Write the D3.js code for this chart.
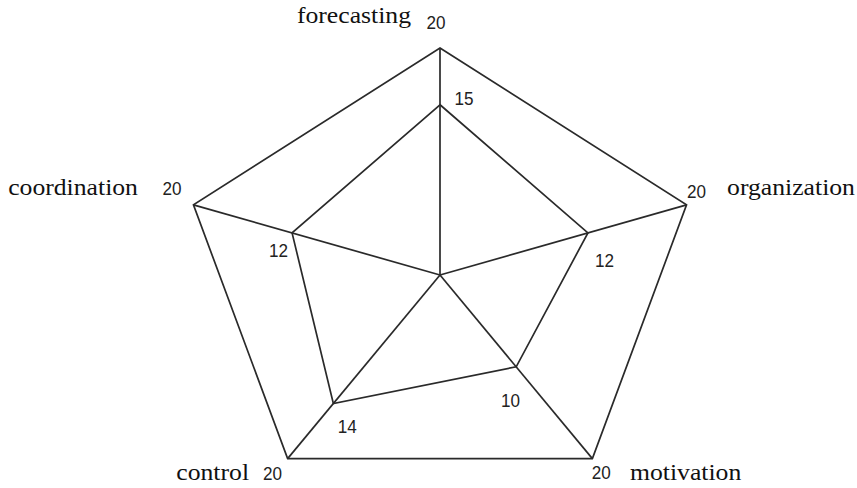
<!DOCTYPE html>
<html>
<head>
<meta charset="utf-8">
<script src="https://cdn.jsdelivr.net/npm/d3@7"></script>
<style>
  body { margin: 0; background: #fff; }
  .cat { font-family: "Liberation Serif", "Times New Roman", serif; font-size: 22.5px; fill: #111; }
  .num { font-family: "Liberation Sans", Arial, sans-serif; font-size: 19px; fill: #222; }
</style>
</head>
<body>
<div id="main"></div>
<script>
// chart data
var categories = ["forecasting", "organization", "motivation", "control", "coordination"];
var values = [15, 12, 10, 14, 12];
var maxValues = [20, 20, 20, 20, 20];

var ctx = {
    w: 857,
    h: 488,
    cx: 440,
    cy: 275,
    r: 227,
    sx: 1.142,    // the original picture is stretched horizontally
    numSx: 0.9,   // the digits are narrower than plain Arial
    stroke: "#2a2a2a"
};

// label offsets per axis (dx, dy) from the vertex they belong to
var catOffsets = [[-29, -25, "end"], [40.5, -10, "start"], [37.6, 21, "start"], [-38.6, 21, "end"], [-55.5, -10, "end"]];
var maxOffsets = [[-4, -19], [10, -7], [9, 20], [-15, 21], [-21.5, -10]];
var valOffsets = [[24, 0], [16.5, 34], [-5.7, 40], [14, 29.5], [-13.5, 24]];

var createViz = function() {
    var svg = d3.select("#main").append("svg")
        .attr("width", ctx.w)
        .attr("height", ctx.h);

    var rScale = d3.scaleLinear().domain([0, 20]).range([0, ctx.r]);
    var angle = d3.scaleLinear().domain([0, categories.length]).range([0, 2 * Math.PI]);

    var pt = function(i, v) {
        var a = angle(i);
        return [ctx.cx + ctx.sx * rScale(v) * Math.sin(a), ctx.cy - rScale(v) * Math.cos(a)];
    };

    var outer = maxValues.map((v, i) => pt(i, v));
    var inner = values.map((v, i) => pt(i, v));
    var line = d3.line().curve(d3.curveLinearClosed);

    var g = svg.append("g").attr("id", "rootG");

    // spokes
    g.selectAll(".spoke").data(outer).enter().append("line")
        .attr("x1", ctx.cx).attr("y1", ctx.cy)
        .attr("x2", d => d[0]).attr("y2", d => d[1])
        .attr("stroke", ctx.stroke).attr("stroke-width", 1.7);

    // outer pentagon
    g.append("path").attr("d", line(outer))
        .attr("fill", "none").attr("stroke", ctx.stroke).attr("stroke-width", 1.7);

    // data polygon
    g.append("path").attr("d", line(inner))
        .attr("fill", "none").attr("stroke", ctx.stroke).attr("stroke-width", 1.7);

    var stretched = function(x, y, s) { return `translate(${x},${y}) scale(${s},1)`; };

    // category labels
    g.selectAll(".cat").data(categories).enter().append("text")
        .attr("class", "cat")
        .attr("text-anchor", (d, i) => catOffsets[i][2])
        .attr("transform", (d, i) => stretched(outer[i][0] + catOffsets[i][0], outer[i][1] + catOffsets[i][1], ctx.sx))
        .text(d => d);

    // max value labels
    g.selectAll(".maxLb").data(maxValues).enter().append("text")
        .attr("class", "num")
        .attr("text-anchor", "middle")
        .attr("transform", (d, i) => stretched(outer[i][0] + maxOffsets[i][0], outer[i][1] + maxOffsets[i][1], ctx.numSx))
        .text(d => d);

    // value labels
    g.selectAll(".valLb").data(values).enter().append("text")
        .attr("class", "num")
        .attr("text-anchor", "middle")
        .attr("transform", (d, i) => stretched(inner[i][0] + valOffsets[i][0], inner[i][1] + valOffsets[i][1], ctx.numSx))
        .text(d => d);
};

createViz();
</script>
</body>
</html>
